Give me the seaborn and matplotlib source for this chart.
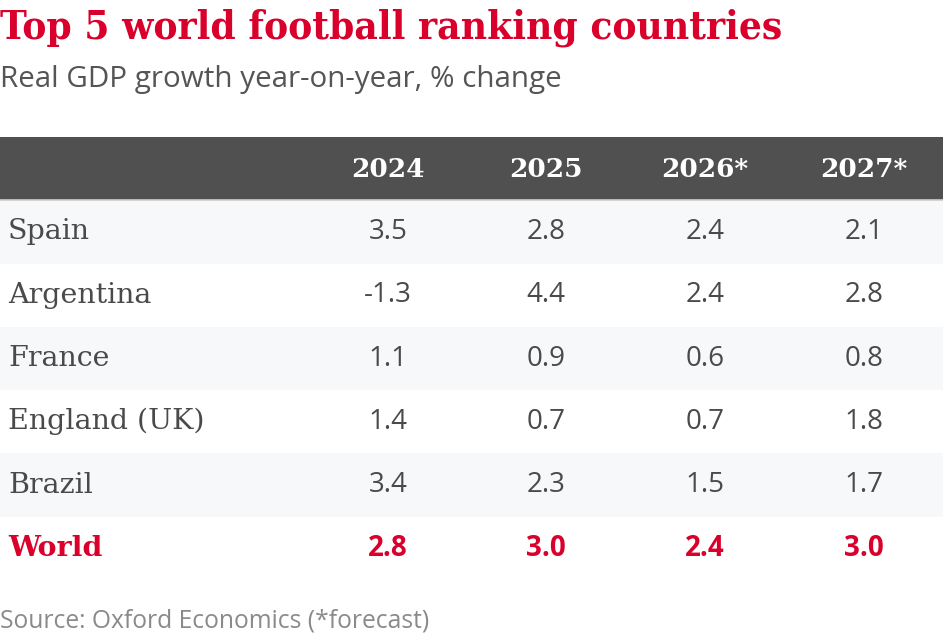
import matplotlib
matplotlib.use("Agg")
import matplotlib.pyplot as plt
import seaborn as sns

countries = ["Spain", "Argentina", "France", "England (UK)", "Brazil", "World"]
years = ["2024", "2025", "2026*", "2027*"]
v2024 = [3.5, -1.3, 1.1, 1.4, 3.4, 2.8]
v2025 = [2.8, 4.4, 0.9, 0.7, 2.3, 3.0]
v2026 = [2.4, 2.4, 0.6, 0.7, 1.5, 2.4]
v2027 = [2.1, 2.8, 0.8, 1.8, 1.7, 3.0]

title = "Top 5 world football ranking countries"
subtitle = "Real GDP growth year-on-year, % change"
source = "Source: Oxford Economics (*forecast)"

RED = "#d9002b"
DARK = "#505050"
TEXT = "#4a4a4a"
STRIPE = "#f7f8fa"

sns.set_theme(style="white")
plt.rcParams["font.family"] = ["DejaVu Serif", "DejaVu Sans"]

W, H = 950, 640
fig = plt.figure(figsize=(W / 100, H / 100), dpi=100)
fig.patch.set_facecolor("white")

# table axes: x in pixels, y in rows (row 0 = header)
top, bottom, right = 137, 580, 943
nrows = len(countries) + 1
ax = fig.add_axes([0, 1 - bottom / H, right / W, (bottom - top) / H])
ax.set_xlim(0, right)
ax.set_ylim(nrows, 0)
ax.axis("off")

col_x = [388, 546, 705, 864]
columns = [v2024, v2025, v2026, v2027]

# header band
ax.axhspan(0, 1, color=DARK, lw=0)
ax.axhline(1, color="#cfcfcf", lw=1.2)
for x, yr in zip(col_x, years):
    ax.text(x, 0.52, yr, ha="center", va="center", color="white",
            fontsize=19, fontweight="bold", family="DejaVu Serif")

for i, name in enumerate(countries):
    r = i + 1
    if i % 2 == 0 and name != "World":
        ax.axhspan(r, r + 1, color=STRIPE, lw=0)
    world = name == "World"
    color = RED if world else TEXT
    weight = "bold" if world else "normal"
    ax.text(8, r + 0.5, name, ha="left", va="center", color=color,
            fontsize=20.5, fontweight=weight, family="DejaVu Serif")
    for x, col in zip(col_x, columns):
        ax.text(x, r + 0.5, f"{col[i]:.1f}", ha="center", va="center",
                color=color, fontsize=20, fontweight="bold" if world else "normal",
                family="Open Sans")

fig.text(0, 1 - 28 / H, title, ha="left", va="center", color=RED,
         fontsize=29, fontweight="bold",
         family=["DejaVu Serif Condensed", "DejaVu Serif"], fontstretch="condensed")
fig.text(0, 1 - 80 / H, subtitle, ha="left", va="center", color="#555555",
         fontsize=21.3, family="Open Sans")
fig.text(0, 1 - 621 / H, source, ha="left", va="center", color="#8a8a8a",
         fontsize=17.7, family="Open Sans")

fig.savefig("out.png", dpi=100)
